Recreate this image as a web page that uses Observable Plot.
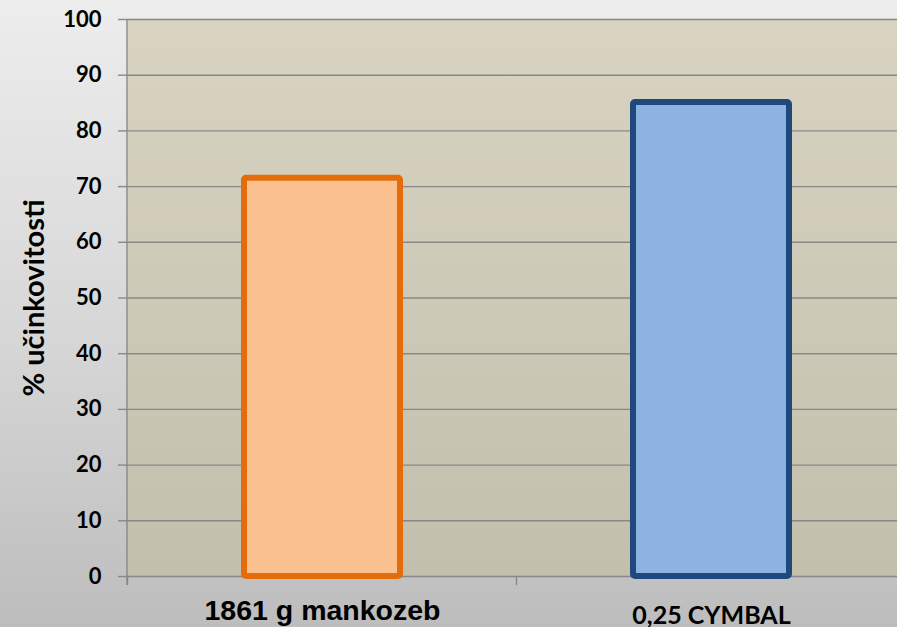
<!DOCTYPE html>
<html>
<head>
<meta charset="utf-8">
<script src="https://cdn.jsdelivr.net/npm/d3@7"></script>
<script src="https://cdn.jsdelivr.net/npm/@observablehq/plot@0.6"></script>
<style>
  html, body { margin: 0; padding: 0; }
  body { width: 897px; height: 627px; overflow: hidden; }
</style>
</head>
<body>
<div id="chart"></div>
<script>
const categories = ["1861 g mankozeb", "0,25 CYMBAL"];
const values = [71.5, 85.1];
const fills = ["#fac090", "#8db3e2"];
const strokes = ["#e46c0a", "#1f497d"];
const yTicks = [0, 10, 20, 30, 40, 50, 60, 70, 80, 90, 100];
const yLabel = "% učinkovitosti";

const data = categories.map((c, i) => ({cat: c, value: values[i], fill: fills[i], stroke: strokes[i]}));

const defs = () => {
  const d = d3.create("svg:defs");
  const g = d.append("linearGradient").attr("id", "plotGrad").attr("x1", 0).attr("y1", 0).attr("x2", 0).attr("y2", 1);
  g.append("stop").attr("offset", "0%").attr("stop-color", "#d9d4c2");
  g.append("stop").attr("offset", "100%").attr("stop-color", "#c3bfad");
  return d.node();
};

const plot = Plot.plot({
  width: 897,
  height: 627,
  marginTop: 19,
  marginBottom: 51,
  marginLeft: 127,
  marginRight: -8,
  style: {
    background: "linear-gradient(180deg, #ededed 0%, #d6d6d6 55%, #bdbdbd 100%)",
    fontFamily: "Lato, 'Open Sans', sans-serif",
    color: "#000"
  },
  x: {domain: categories, paddingInner: 0.6, paddingOuter: 0.3, axis: null},
  y: {domain: [0, 100], ticks: yTicks, axis: null},
  marks: [
    defs,
    Plot.frame({fill: "url(#plotGrad)", stroke: null}),
    Plot.ruleY(yTicks, {stroke: "#888888", strokeWidth: 1.4}),
    Plot.axisY(yTicks, {
      tickSize: 9, tickPadding: 17, stroke: "#888888", strokeWidth: 1.4,
      fontSize: 22, fontWeight: "bold", fontFamily: "Lato, sans-serif", label: null
    }),
    Plot.barY(data, {
      x: "cat", y: "value", fill: "fill", stroke: "stroke",
      strokeWidth: 6, strokeLinejoin: "round", rx: 2
    }),
    Plot.text([yLabel], {
      frameAnchor: "left", textAnchor: "middle", text: d => d, rotate: -90, dx: -93,
      fontSize: 29, fontWeight: "bold", fontFamily: "Lato, sans-serif", fill: "#000"
    }),
    Plot.text([categories[0]], {
      x: d => d, frameAnchor: "bottom", lineAnchor: "bottom", dy: 43, text: d => d,
      fontSize: 28.5, fontWeight: "bold", fontFamily: "'Liberation Sans', Arial, sans-serif", fill: "#000"
    }),
    Plot.text([categories[1]], {
      x: d => d, frameAnchor: "bottom", lineAnchor: "bottom", dy: 47, text: d => d,
      fontSize: 25, fontWeight: "bold", fontFamily: "Lato, sans-serif", fill: "#000"
    })
  ]
});

// vertical axis line and category boundary ticks, positioned via Plot's scales
const xs = plot.scale("x");
const ys = plot.scale("y");
const svg = d3.select(plot);
const x0 = xs.range[0];
const y0 = ys.apply(0);
const yTop = ys.apply(100);
const bounds = categories.map(c => xs.apply(c) - (xs.step - xs.bandwidth) / 2);
svg.append("line")
  .attr("x1", x0).attr("x2", x0).attr("y1", yTop).attr("y2", y0 + 9)
  .attr("stroke", "#888888").attr("stroke-width", 1.4);
svg.append("g").selectAll("line").data(bounds).join("line")
  .attr("x1", d => d).attr("x2", d => d).attr("y1", y0).attr("y2", y0 + 9)
  .attr("stroke", "#888888").attr("stroke-width", 1.4);

document.getElementById("chart").appendChild(plot);
</script>
</body>
</html>
